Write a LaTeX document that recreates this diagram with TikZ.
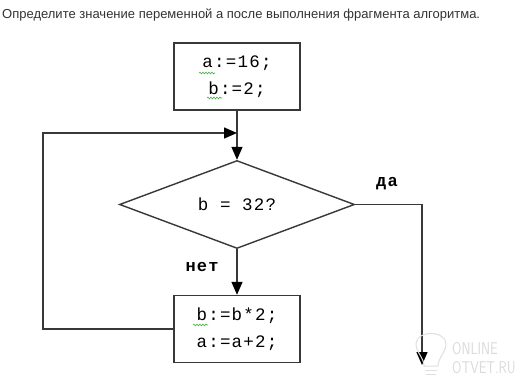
\documentclass[tikz,border=0pt]{standalone}
\usepackage{fontspec}
\setmainfont{Liberation Sans}
\newfontfamily\codefont[LetterSpace=7]{Liberation Mono}
\usetikzlibrary{shapes.geometric,arrows.meta,decorations.pathmorphing}
\definecolor{linec}{HTML}{383838}
\definecolor{titlec}{HTML}{333333}
\definecolor{spellc}{HTML}{44B044}
\begin{document}
\begin{tikzpicture}[x=1pt,y=-1pt,
  every node/.style={inner sep=0pt},
  conn/.style={draw=linec,line width=1.4pt},
  arr/.style={conn,-{Triangle[length=13pt,width=11pt,color=black,fill=black]}},
  procbox/.style={draw=linec,line width=1.4pt,minimum width=126pt,minimum height=67pt,
     align=center,font=\codefont\fontsize{17.5}{26.5}\selectfont},
  decbox/.style={draw=linec,line width=1.4pt,diamond,aspect=2.67,minimum width=235pt,
     minimum height=88pt,font=\codefont\fontsize{17.5}{20}\selectfont},
  lbl/.style={font=\codefont\bfseries\fontsize{17}{20}\selectfont},
  spell/.style={draw=spellc,line width=0.6pt,decorate,decoration={snake,amplitude=0.9pt,segment length=3pt}},
  wm/.style={text=gray!28,font=\sffamily\fontsize{17}{17}\selectfont}
]
\useasboundingbox[fill=white] (0,0) rectangle (527,387);
\node[anchor=west,text=titlec,font=\fontsize{13.0}{16}\selectfont] (title) at (2,15)
  {Определите значение переменной а после выполнения фрагмента алгоритма.};
\node[procbox] (init) at (237,76.5) {a:=16;\\b:=2;};
\node[decbox] (cond) at (237,204.5) {b = 32?};
\node[procbox] (body) at (237,329) {b:=b*2;\\a:=a+2;};
\coordinate (join) at (237,133);
\coordinate (loopc) at (43,133);
\coordinate (exitc) at (422,365);
\node[lbl] (yes) at (387,184) {да};
\node[lbl] (no) at (202,267) {нет};
\draw[conn] (init.south) -- (join);
\draw[arr] (join) -- (cond.north);
\draw[arr] (cond.south) -- (body.north);
\draw[arr] (body.west) -| (loopc) -- (join);
\draw[arr] (cond.east) -| (exitc);
% spell-check squiggles
\draw[spell] (199,73) -- (215,73);
\draw[spell] (207,98) -- (222,98);
\draw[spell] (193,325) -- (208,325);
% watermark
\node[wm,anchor=west,xscale=0.8] (wm1) at (452,348.5) {ONLINE};
\node[wm,anchor=west,xscale=0.8] (wm2) at (452,367.5) {OTVET.RU};
\draw[gray!25,line width=1pt] (424,366) .. controls (424,358) and (416,352) .. (416,344)
  .. controls (416,330) and (446,330) .. (446,344) .. controls (446,352) and (438,358) .. (438,366) -- cycle;
\draw[gray!25,line width=1pt] (425,370) -- (437,370) (426,374) -- (436,374);
\end{tikzpicture}
\end{document}
